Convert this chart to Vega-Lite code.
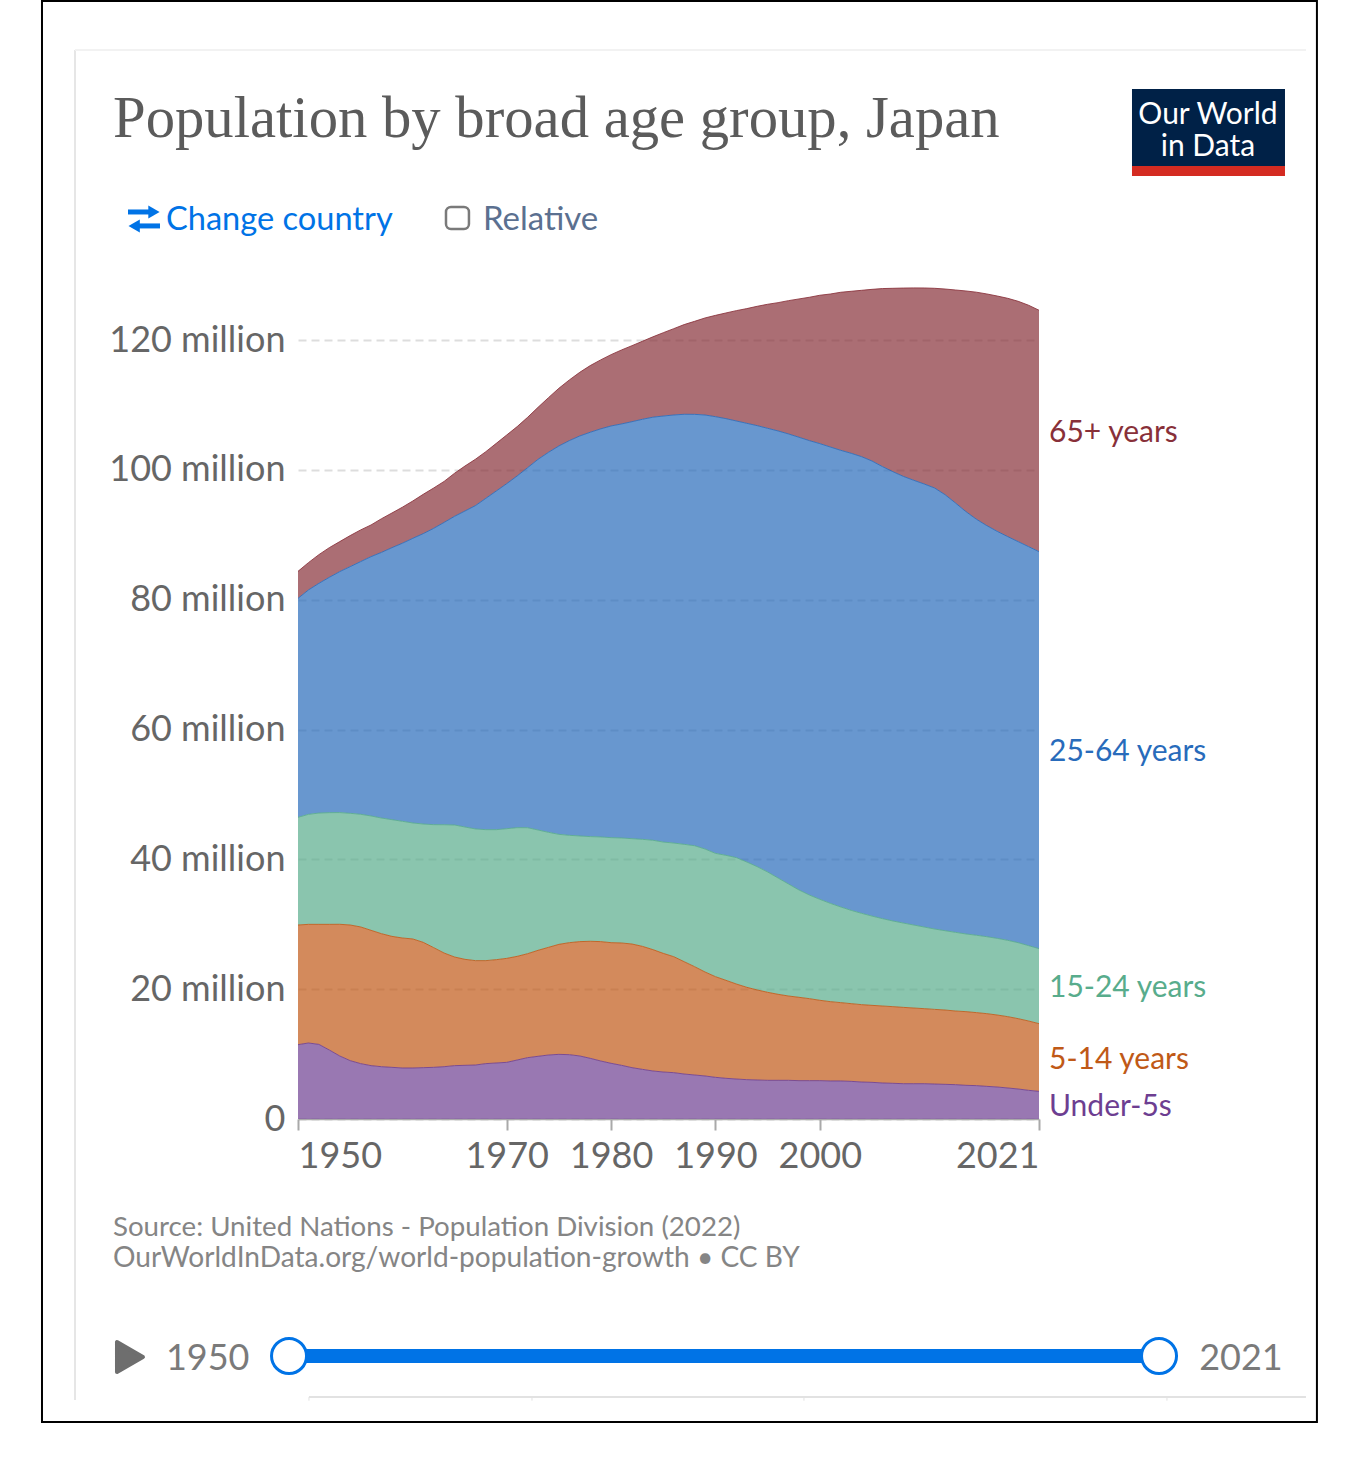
{"$schema":"https://vega.github.io/schema/vega-lite/v6.json","autosize":"none","background":"white","padding":{"left":298,"top":280,"right":321,"bottom":347},"width":741,"height":839,"title":{"text":"Population by broad age group, Japan","anchor":"start","frame":"group","dx":-185,"offset":-208,"baseline":"bottom","font":"Liberation Serif","fontSize":58.7,"fontWeight":"normal","color":"#5b5b5b"},"config":{"view":{"stroke":null},"text":{"font":"Lato"}},"datasets":{"pop":[
{"year":1950,"age":"Under-5s","pop":11.45},{"year":1950,"age":"5-14 years","pop":18.44},{"year":1950,"age":"15-24 years","pop":16.59},{"year":1950,"age":"25-64 years","pop":33.74},{"year":1950,"age":"65+ years","pop":4.16},
{"year":1951,"age":"Under-5s","pop":11.71},{"year":1951,"age":"5-14 years","pop":18.28},{"year":1951,"age":"15-24 years","pop":16.95},{"year":1951,"age":"25-64 years","pop":34.57},{"year":1951,"age":"65+ years","pop":4.21},
{"year":1952,"age":"Under-5s","pop":11.5},{"year":1952,"age":"5-14 years","pop":18.49},{"year":1952,"age":"15-24 years","pop":17.15},{"year":1952,"age":"25-64 years","pop":35.39},{"year":1952,"age":"65+ years","pop":4.42},
{"year":1953,"age":"Under-5s","pop":10.63},{"year":1953,"age":"5-14 years","pop":19.36},{"year":1953,"age":"15-24 years","pop":17.21},{"year":1953,"age":"25-64 years","pop":36.26},{"year":1953,"age":"65+ years","pop":4.57},
{"year":1954,"age":"Under-5s","pop":9.71},{"year":1954,"age":"5-14 years","pop":20.29},{"year":1954,"age":"15-24 years","pop":17.21},{"year":1954,"age":"25-64 years","pop":37.13},{"year":1954,"age":"65+ years","pop":4.62},
{"year":1955,"age":"Under-5s","pop":8.99},{"year":1955,"age":"5-14 years","pop":20.9},{"year":1955,"age":"15-24 years","pop":17.21},{"year":1955,"age":"25-64 years","pop":38.01},{"year":1955,"age":"65+ years","pop":4.78},
{"year":1956,"age":"Under-5s","pop":8.53},{"year":1956,"age":"5-14 years","pop":21.06},{"year":1956,"age":"15-24 years","pop":17.36},{"year":1956,"age":"25-64 years","pop":38.93},{"year":1956,"age":"65+ years","pop":4.88},
{"year":1957,"age":"Under-5s","pop":8.22},{"year":1957,"age":"5-14 years","pop":20.85},{"year":1957,"age":"15-24 years","pop":17.62},{"year":1957,"age":"25-64 years","pop":39.96},{"year":1957,"age":"65+ years","pop":4.88},
{"year":1958,"age":"Under-5s","pop":8.06},{"year":1958,"age":"5-14 years","pop":20.49},{"year":1958,"age":"15-24 years","pop":17.82},{"year":1958,"age":"25-64 years","pop":40.93},{"year":1958,"age":"65+ years","pop":5.19},
{"year":1959,"age":"Under-5s","pop":7.96},{"year":1959,"age":"5-14 years","pop":20.18},{"year":1959,"age":"15-24 years","pop":17.98},{"year":1959,"age":"25-64 years","pop":41.91},{"year":1959,"age":"65+ years","pop":5.34},
{"year":1960,"age":"Under-5s","pop":7.86},{"year":1960,"age":"5-14 years","pop":20.03},{"year":1960,"age":"15-24 years","pop":17.98},{"year":1960,"age":"25-64 years","pop":42.84},{"year":1960,"age":"65+ years","pop":5.55},
{"year":1961,"age":"Under-5s","pop":7.86},{"year":1961,"age":"5-14 years","pop":19.88},{"year":1961,"age":"15-24 years","pop":17.87},{"year":1961,"age":"25-64 years","pop":43.86},{"year":1961,"age":"65+ years","pop":5.75},
{"year":1962,"age":"Under-5s","pop":7.91},{"year":1962,"age":"5-14 years","pop":19.31},{"year":1962,"age":"15-24 years","pop":18.23},{"year":1962,"age":"25-64 years","pop":44.74},{"year":1962,"age":"65+ years","pop":6.06},
{"year":1963,"age":"Under-5s","pop":7.96},{"year":1963,"age":"5-14 years","pop":18.44},{"year":1963,"age":"15-24 years","pop":18.95},{"year":1963,"age":"25-64 years","pop":45.66},{"year":1963,"age":"65+ years","pop":6.21},
{"year":1964,"age":"Under-5s","pop":8.06},{"year":1964,"age":"5-14 years","pop":17.51},{"year":1964,"age":"15-24 years","pop":19.77},{"year":1964,"age":"25-64 years","pop":46.58},{"year":1964,"age":"65+ years","pop":6.32},
{"year":1965,"age":"Under-5s","pop":8.22},{"year":1965,"age":"5-14 years","pop":16.74},{"year":1965,"age":"15-24 years","pop":20.34},{"year":1965,"age":"25-64 years","pop":47.56},{"year":1965,"age":"65+ years","pop":6.63},
{"year":1966,"age":"Under-5s","pop":8.27},{"year":1966,"age":"5-14 years","pop":16.33},{"year":1966,"age":"15-24 years","pop":20.39},{"year":1966,"age":"25-64 years","pop":48.69},{"year":1966,"age":"65+ years","pop":6.93},
{"year":1967,"age":"Under-5s","pop":8.32},{"year":1967,"age":"5-14 years","pop":16.08},{"year":1967,"age":"15-24 years","pop":20.29},{"year":1967,"age":"25-64 years","pop":49.82},{"year":1967,"age":"65+ years","pop":7.14},
{"year":1968,"age":"Under-5s","pop":8.53},{"year":1968,"age":"5-14 years","pop":15.87},{"year":1968,"age":"15-24 years","pop":20.18},{"year":1968,"age":"25-64 years","pop":51.05},{"year":1968,"age":"65+ years","pop":7.19},
{"year":1969,"age":"Under-5s","pop":8.63},{"year":1969,"age":"5-14 years","pop":15.92},{"year":1969,"age":"15-24 years","pop":20.03},{"year":1969,"age":"25-64 years","pop":52.18},{"year":1969,"age":"65+ years","pop":7.34},
{"year":1970,"age":"Under-5s","pop":8.73},{"year":1970,"age":"5-14 years","pop":16.02},{"year":1970,"age":"15-24 years","pop":19.98},{"year":1970,"age":"25-64 years","pop":53.16},{"year":1970,"age":"65+ years","pop":7.5},
{"year":1971,"age":"Under-5s","pop":9.09},{"year":1971,"age":"5-14 years","pop":15.97},{"year":1971,"age":"15-24 years","pop":19.83},{"year":1971,"age":"25-64 years","pop":54.19},{"year":1971,"age":"65+ years","pop":7.6},
{"year":1972,"age":"Under-5s","pop":9.45},{"year":1972,"age":"5-14 years","pop":16.02},{"year":1972,"age":"15-24 years","pop":19.41},{"year":1972,"age":"25-64 years","pop":55.47},{"year":1972,"age":"65+ years","pop":7.76},
{"year":1973,"age":"Under-5s","pop":9.66},{"year":1973,"age":"5-14 years","pop":16.33},{"year":1973,"age":"15-24 years","pop":18.54},{"year":1973,"age":"25-64 years","pop":57.11},{"year":1973,"age":"65+ years","pop":8.01},
{"year":1974,"age":"Under-5s","pop":9.86},{"year":1974,"age":"5-14 years","pop":16.59},{"year":1974,"age":"15-24 years","pop":17.72},{"year":1974,"age":"25-64 years","pop":58.55},{"year":1974,"age":"65+ years","pop":8.42},
{"year":1975,"age":"Under-5s","pop":9.96},{"year":1975,"age":"5-14 years","pop":16.95},{"year":1975,"age":"15-24 years","pop":16.95},{"year":1975,"age":"25-64 years","pop":59.84},{"year":1975,"age":"65+ years","pop":8.89},
{"year":1976,"age":"Under-5s","pop":9.91},{"year":1976,"age":"5-14 years","pop":17.26},{"year":1976,"age":"15-24 years","pop":16.54},{"year":1976,"age":"25-64 years","pop":60.81},{"year":1976,"age":"65+ years","pop":9.35},
{"year":1977,"age":"Under-5s","pop":9.71},{"year":1977,"age":"5-14 years","pop":17.62},{"year":1977,"age":"15-24 years","pop":16.28},{"year":1977,"age":"25-64 years","pop":61.63},{"year":1977,"age":"65+ years","pop":9.81},
{"year":1978,"age":"Under-5s","pop":9.35},{"year":1978,"age":"5-14 years","pop":18.03},{"year":1978,"age":"15-24 years","pop":16.13},{"year":1978,"age":"25-64 years","pop":62.3},{"year":1978,"age":"65+ years","pop":10.27},
{"year":1979,"age":"Under-5s","pop":8.94},{"year":1979,"age":"5-14 years","pop":18.39},{"year":1979,"age":"15-24 years","pop":16.13},{"year":1979,"age":"25-64 years","pop":62.87},{"year":1979,"age":"65+ years","pop":10.63},
{"year":1980,"age":"Under-5s","pop":8.58},{"year":1980,"age":"5-14 years","pop":18.59},{"year":1980,"age":"15-24 years","pop":16.18},{"year":1980,"age":"25-64 years","pop":63.43},{"year":1980,"age":"65+ years","pop":10.99},
{"year":1981,"age":"Under-5s","pop":8.27},{"year":1981,"age":"5-14 years","pop":18.85},{"year":1981,"age":"15-24 years","pop":16.18},{"year":1981,"age":"25-64 years","pop":63.79},{"year":1981,"age":"65+ years","pop":11.4},
{"year":1982,"age":"Under-5s","pop":7.91},{"year":1982,"age":"5-14 years","pop":19.05},{"year":1982,"age":"15-24 years","pop":16.23},{"year":1982,"age":"25-64 years","pop":64.25},{"year":1982,"age":"65+ years","pop":11.71},
{"year":1983,"age":"Under-5s","pop":7.65},{"year":1983,"age":"5-14 years","pop":18.95},{"year":1983,"age":"15-24 years","pop":16.49},{"year":1983,"age":"25-64 years","pop":64.72},{"year":1983,"age":"65+ years","pop":12.02},
{"year":1984,"age":"Under-5s","pop":7.4},{"year":1984,"age":"5-14 years","pop":18.7},{"year":1984,"age":"15-24 years","pop":16.85},{"year":1984,"age":"25-64 years","pop":65.18},{"year":1984,"age":"65+ years","pop":12.38},
{"year":1985,"age":"Under-5s","pop":7.24},{"year":1985,"age":"5-14 years","pop":18.28},{"year":1985,"age":"15-24 years","pop":17.15},{"year":1985,"age":"25-64 years","pop":65.64},{"year":1985,"age":"65+ years","pop":12.84},
{"year":1986,"age":"Under-5s","pop":7.14},{"year":1986,"age":"5-14 years","pop":17.87},{"year":1986,"age":"15-24 years","pop":17.51},{"year":1986,"age":"25-64 years","pop":65.95},{"year":1986,"age":"65+ years","pop":13.3},
{"year":1987,"age":"Under-5s","pop":6.93},{"year":1987,"age":"5-14 years","pop":17.31},{"year":1987,"age":"15-24 years","pop":18.08},{"year":1987,"age":"25-64 years","pop":66.26},{"year":1987,"age":"65+ years","pop":13.82},
{"year":1988,"age":"Under-5s","pop":6.78},{"year":1988,"age":"5-14 years","pop":16.69},{"year":1988,"age":"15-24 years","pop":18.64},{"year":1988,"age":"25-64 years","pop":66.46},{"year":1988,"age":"65+ years","pop":14.33},
{"year":1989,"age":"Under-5s","pop":6.63},{"year":1989,"age":"5-14 years","pop":16.02},{"year":1989,"age":"15-24 years","pop":18.95},{"year":1989,"age":"25-64 years","pop":66.87},{"year":1989,"age":"65+ years","pop":14.95},
{"year":1990,"age":"Under-5s","pop":6.42},{"year":1990,"age":"5-14 years","pop":15.51},{"year":1990,"age":"15-24 years","pop":19.0},{"year":1990,"age":"25-64 years","pop":67.28},{"year":1990,"age":"65+ years","pop":15.61},
{"year":1991,"age":"Under-5s","pop":6.27},{"year":1991,"age":"5-14 years","pop":15.1},{"year":1991,"age":"15-24 years","pop":19.26},{"year":1991,"age":"25-64 years","pop":67.28},{"year":1991,"age":"65+ years","pop":16.28},
{"year":1992,"age":"Under-5s","pop":6.16},{"year":1992,"age":"5-14 years","pop":14.64},{"year":1992,"age":"15-24 years","pop":19.47},{"year":1992,"age":"25-64 years","pop":67.28},{"year":1992,"age":"65+ years","pop":17.0},
{"year":1993,"age":"Under-5s","pop":6.06},{"year":1993,"age":"5-14 years","pop":14.23},{"year":1993,"age":"15-24 years","pop":19.31},{"year":1993,"age":"25-64 years","pop":67.59},{"year":1993,"age":"65+ years","pop":17.67},
{"year":1994,"age":"Under-5s","pop":6.01},{"year":1994,"age":"5-14 years","pop":13.87},{"year":1994,"age":"15-24 years","pop":19.0},{"year":1994,"age":"25-64 years","pop":67.95},{"year":1994,"age":"65+ years","pop":18.39},
{"year":1995,"age":"Under-5s","pop":5.96},{"year":1995,"age":"5-14 years","pop":13.56},{"year":1995,"age":"15-24 years","pop":18.54},{"year":1995,"age":"25-64 years","pop":68.36},{"year":1995,"age":"65+ years","pop":19.11},
{"year":1996,"age":"Under-5s","pop":5.96},{"year":1996,"age":"5-14 years","pop":13.25},{"year":1996,"age":"15-24 years","pop":17.92},{"year":1996,"age":"25-64 years","pop":68.88},{"year":1996,"age":"65+ years","pop":19.77},
{"year":1997,"age":"Under-5s","pop":5.96},{"year":1997,"age":"5-14 years","pop":12.99},{"year":1997,"age":"15-24 years","pop":17.26},{"year":1997,"age":"25-64 years","pop":69.34},{"year":1997,"age":"65+ years","pop":20.54},
{"year":1998,"age":"Under-5s","pop":5.91},{"year":1998,"age":"5-14 years","pop":12.84},{"year":1998,"age":"15-24 years","pop":16.54},{"year":1998,"age":"25-64 years","pop":69.75},{"year":1998,"age":"65+ years","pop":21.31},
{"year":1999,"age":"Under-5s","pop":5.91},{"year":1999,"age":"5-14 years","pop":12.63},{"year":1999,"age":"15-24 years","pop":15.97},{"year":1999,"age":"25-64 years","pop":70.01},{"year":1999,"age":"65+ years","pop":22.09},
{"year":2000,"age":"Under-5s","pop":5.91},{"year":2000,"age":"5-14 years","pop":12.38},{"year":2000,"age":"15-24 years","pop":15.56},{"year":2000,"age":"25-64 years","pop":70.21},{"year":2000,"age":"65+ years","pop":22.86},
{"year":2001,"age":"Under-5s","pop":5.86},{"year":2001,"age":"5-14 years","pop":12.22},{"year":2001,"age":"15-24 years","pop":15.15},{"year":2001,"age":"25-64 years","pop":70.31},{"year":2001,"age":"65+ years","pop":23.57},
{"year":2002,"age":"Under-5s","pop":5.86},{"year":2002,"age":"5-14 years","pop":12.07},{"year":2002,"age":"15-24 years","pop":14.74},{"year":2002,"age":"25-64 years","pop":70.36},{"year":2002,"age":"65+ years","pop":24.35},
{"year":2003,"age":"Under-5s","pop":5.8},{"year":2003,"age":"5-14 years","pop":11.97},{"year":2003,"age":"15-24 years","pop":14.38},{"year":2003,"age":"25-64 years","pop":70.42},{"year":2003,"age":"65+ years","pop":24.96},
{"year":2004,"age":"Under-5s","pop":5.7},{"year":2004,"age":"5-14 years","pop":11.92},{"year":2004,"age":"15-24 years","pop":14.07},{"year":2004,"age":"25-64 years","pop":70.36},{"year":2004,"age":"65+ years","pop":25.63},
{"year":2005,"age":"Under-5s","pop":5.65},{"year":2005,"age":"5-14 years","pop":11.86},{"year":2005,"age":"15-24 years","pop":13.76},{"year":2005,"age":"25-64 years","pop":70.11},{"year":2005,"age":"65+ years","pop":26.45},
{"year":2006,"age":"Under-5s","pop":5.55},{"year":2006,"age":"5-14 years","pop":11.86},{"year":2006,"age":"15-24 years","pop":13.46},{"year":2006,"age":"25-64 years","pop":69.65},{"year":2006,"age":"65+ years","pop":27.43},
{"year":2007,"age":"Under-5s","pop":5.5},{"year":2007,"age":"5-14 years","pop":11.81},{"year":2007,"age":"15-24 years","pop":13.2},{"year":2007,"age":"25-64 years","pop":69.23},{"year":2007,"age":"65+ years","pop":28.25},
{"year":2008,"age":"Under-5s","pop":5.44},{"year":2008,"age":"5-14 years","pop":11.76},{"year":2008,"age":"15-24 years","pop":12.99},{"year":2008,"age":"25-64 years","pop":68.82},{"year":2008,"age":"65+ years","pop":29.02},
{"year":2009,"age":"Under-5s","pop":5.44},{"year":2009,"age":"5-14 years","pop":11.66},{"year":2009,"age":"15-24 years","pop":12.79},{"year":2009,"age":"25-64 years","pop":68.52},{"year":2009,"age":"65+ years","pop":29.64},
{"year":2010,"age":"Under-5s","pop":5.44},{"year":2010,"age":"5-14 years","pop":11.56},{"year":2010,"age":"15-24 years","pop":12.58},{"year":2010,"age":"25-64 years","pop":68.26},{"year":2010,"age":"65+ years","pop":30.2},
{"year":2011,"age":"Under-5s","pop":5.39},{"year":2011,"age":"5-14 years","pop":11.5},{"year":2011,"age":"15-24 years","pop":12.38},{"year":2011,"age":"25-64 years","pop":67.95},{"year":2011,"age":"65+ years","pop":30.77},
{"year":2012,"age":"Under-5s","pop":5.34},{"year":2012,"age":"5-14 years","pop":11.45},{"year":2012,"age":"15-24 years","pop":12.22},{"year":2012,"age":"25-64 years","pop":67.18},{"year":2012,"age":"65+ years","pop":31.69},
{"year":2013,"age":"Under-5s","pop":5.29},{"year":2013,"age":"5-14 years","pop":11.35},{"year":2013,"age":"15-24 years","pop":12.12},{"year":2013,"age":"25-64 years","pop":66.15},{"year":2013,"age":"65+ years","pop":32.82},
{"year":2014,"age":"Under-5s","pop":5.19},{"year":2014,"age":"5-14 years","pop":11.35},{"year":2014,"age":"15-24 years","pop":11.97},{"year":2014,"age":"25-64 years","pop":65.07},{"year":2014,"age":"65+ years","pop":34.0},
{"year":2015,"age":"Under-5s","pop":5.14},{"year":2015,"age":"5-14 years","pop":11.25},{"year":2015,"age":"15-24 years","pop":11.92},{"year":2015,"age":"25-64 years","pop":64.1},{"year":2015,"age":"65+ years","pop":34.98},
{"year":2016,"age":"Under-5s","pop":5.03},{"year":2016,"age":"5-14 years","pop":11.2},{"year":2016,"age":"15-24 years","pop":11.86},{"year":2016,"age":"25-64 years","pop":63.33},{"year":2016,"age":"65+ years","pop":35.7},
{"year":2017,"age":"Under-5s","pop":4.93},{"year":2017,"age":"5-14 years","pop":11.09},{"year":2017,"age":"15-24 years","pop":11.81},{"year":2017,"age":"25-64 years","pop":62.71},{"year":2017,"age":"65+ years","pop":36.26},
{"year":2018,"age":"Under-5s","pop":4.78},{"year":2018,"age":"5-14 years","pop":10.99},{"year":2018,"age":"15-24 years","pop":11.76},{"year":2018,"age":"25-64 years","pop":62.2},{"year":2018,"age":"65+ years","pop":36.72},
{"year":2019,"age":"Under-5s","pop":4.62},{"year":2019,"age":"5-14 years","pop":10.84},{"year":2019,"age":"15-24 years","pop":11.71},{"year":2019,"age":"25-64 years","pop":61.79},{"year":2019,"age":"65+ years","pop":37.03},
{"year":2020,"age":"Under-5s","pop":4.42},{"year":2020,"age":"5-14 years","pop":10.68},{"year":2020,"age":"15-24 years","pop":11.61},{"year":2020,"age":"25-64 years","pop":61.48},{"year":2020,"age":"65+ years","pop":37.19},
{"year":2021,"age":"Under-5s","pop":4.26},{"year":2021,"age":"5-14 years","pop":10.43},{"year":2021,"age":"15-24 years","pop":11.56},{"year":2021,"age":"25-64 years","pop":61.17},{"year":2021,"age":"65+ years","pop":37.19}
]},"layer":[
{"data":{"name":"pop"},"transform":[{"calculate":"indexof(['Under-5s','5-14 years','15-24 years','25-64 years','65+ years'],datum.age)","as":"rank"}],"mark":{"type":"area","opacity":0.7,"line":{"strokeWidth":1,"opacity":0.85}},"encoding":{"x":{"field":"year","type":"quantitative","scale":{"domain":[1950,2021],"nice":false,"zero":false},"axis":{"title":null,"values":[1950,1970,1980,1990,2000,2021],"format":"d","grid":false,"domainColor":"#a9a9a9","domainWidth":1.5,"tickColor":"#a9a9a9","tickWidth":2,"tickSize":11,"labelFont":"Lato","labelFontSize":36,"labelColor":"#666666","labelPadding":9,"labelFlush":false,"labelOverlap":false,"labelBound":false,"labelAlign":{"expr":"datum.value==1950?'left':datum.value==2021?'right':'center'"}}},"y":{"field":"pop","type":"quantitative","stack":"zero","scale":{"domain":[0,129.27],"nice":false},"axis":{"title":null,"values":[0,20,40,60,80,100,120],"grid":true,"gridColor":"#dddddd","gridDash":[8,5],"gridWidth":2,"domain":false,"ticks":false,"labelFont":"Lato","labelFontSize":36,"labelColor":"#666666","labelPadding":13,"labelExpr":"datum.value==0?'0':datum.value+' million'"}},"color":{"field":"age","type":"nominal","legend":null,"scale":{"domain":["Under-5s","5-14 years","15-24 years","25-64 years","65+ years"],"range":["#6D3E91","#C05917","#58AC8C","#286BBB","#883039"]}},"order":{"field":"rank"}}},
{"data":{"name":"pop"},"transform":[{"calculate":"indexof(['Under-5s','5-14 years','15-24 years','25-64 years','65+ years'],datum.age)","as":"rank"},{"stack":"pop","groupby":["year"],"sort":[{"field":"rank","order":"ascending"}],"as":["y0","y1"]},{"filter":"datum.year==2021"},{"calculate":"(datum.y0+datum.y1)/2","as":"mid"}],"mark":{"type":"text","align":"left","baseline":"middle","dx":10,"dy":2,"fontSize":30,"font":"Lato"},"encoding":{"x":{"field":"year","type":"quantitative","axis":{"title":null}},"y":{"field":"mid","type":"quantitative","axis":{"title":null}},"text":{"field":"age"},"color":{"field":"age","type":"nominal","legend":null}}},
{"data":{"values":[{"part":"frame"}]},"mark":{"type":"rect","fill":"transparent","stroke":"#000000","strokeWidth":2},"encoding":{"x":{"datum":1925.47,"type":"quantitative","axis":{"title":null}},"x2":{"datum":2047.63},"y":{"datum":172.27,"type":"quantitative","axis":{"title":null}},"y2":{"datum":-46.69}}},
{"data":{"values":[{"part":"card left"}]},"mark":{"type":"rule","stroke":"#e6e6e6","strokeWidth":2},"encoding":{"x":{"datum":1928.63,"type":"quantitative","axis":{"title":null}},"y":{"datum":164.71,"type":"quantitative","axis":{"title":null}},"y2":{"datum":-43.3}}},
{"data":{"values":[{"part":"card top"}]},"mark":{"type":"rule","stroke":"#f2f2f2","strokeWidth":2},"encoding":{"x":{"datum":1928.63,"type":"quantitative","axis":{"title":null}},"x2":{"datum":2046.58},"y":{"datum":164.71,"type":"quantitative","axis":{"title":null}}}},
{"data":{"values":[{"part":"timeline"}]},"mark":{"type":"rule","stroke":"#e2e2e2","strokeWidth":2},"encoding":{"x":{"datum":1951.05,"type":"quantitative","axis":{"title":null}},"x2":{"datum":2046.58},"y":{"datum":-42.84,"type":"quantitative","axis":{"title":null}}}},
{"data":{"values":[{"tick":1951.05},{"tick":1972.42},{"tick":1998.48},{"tick":2033.26}]},"mark":{"type":"rule","stroke":"#e2e2e2","strokeWidth":1},"encoding":{"x":{"field":"tick","type":"quantitative","axis":{"title":null}},"y":{"datum":-42.84,"type":"quantitative","axis":{"title":null}},"y2":{"datum":-43.4}}},
{"data":{"values":[{"part":"logo"}]},"mark":{"type":"rect","fill":"#002147"},"encoding":{"x":{"datum":2029.91,"type":"quantitative","axis":{"title":null}},"x2":{"datum":2044.57},"y":{"datum":158.71,"type":"quantitative","axis":{"title":null}},"y2":{"datum":146.84}}},
{"data":{"values":[{"part":"logo bar"}]},"mark":{"type":"rect","fill":"#D42B21"},"encoding":{"x":{"datum":2029.91,"type":"quantitative","axis":{"title":null}},"x2":{"datum":2044.57},"y":{"datum":146.84,"type":"quantitative","axis":{"title":null}},"y2":{"datum":145.3}}},
{"data":{"values":[{"t":"Our World"}]},"mark":{"type":"text","align":"center","baseline":"middle","font":"Lato","fontSize":30,"fill":"#ffffff","dy":2},"encoding":{"text":{"field":"t"},"x":{"datum":2037.19,"type":"quantitative","axis":{"title":null}},"y":{"datum":155,"type":"quantitative","axis":{"title":null}}}},
{"data":{"values":[{"t":"in Data"}]},"mark":{"type":"text","align":"center","baseline":"middle","font":"Lato","fontSize":30,"fill":"#ffffff","dy":1},"encoding":{"text":{"field":"t"},"x":{"datum":2037.19,"type":"quantitative","axis":{"title":null}},"y":{"datum":149.92,"type":"quantitative","axis":{"title":null}}}},
{"data":{"values":[{"t":"Change country"}]},"mark":{"type":"text","align":"left","baseline":"middle","font":"Lato","fontSize":32.6,"fill":"#0073E6","dy":1},"encoding":{"text":{"field":"t"},"x":{"datum":1937.35,"type":"quantitative","axis":{"title":null}},"y":{"datum":138.67,"type":"quantitative","axis":{"title":null}}}},
{"data":{"values":[{"t":"Relative"}]},"mark":{"type":"text","align":"left","baseline":"middle","font":"Lato","fontSize":33,"fill":"#5b7090","dy":1},"encoding":{"text":{"field":"t"},"x":{"datum":1967.72,"type":"quantitative","axis":{"title":null}},"y":{"datum":138.67,"type":"quantitative","axis":{"title":null}}}},
{"data":{"values":[{"part":"checkbox"}]},"mark":{"type":"rect","fill":"transparent","stroke":"#7a7a7a","strokeWidth":2.5,"cornerRadius":5},"encoding":{"x":{"datum":1964.18,"type":"quantitative","axis":{"title":null}},"x2":{"datum":1966.38},"y":{"datum":140.52,"type":"quantitative","axis":{"title":null}},"y2":{"datum":137.13}}},
{"data":{"values":[{"part":"icon top"}]},"mark":{"type":"rule","stroke":"#0073E6","strokeWidth":5},"encoding":{"x":{"datum":1933.71,"type":"quantitative","axis":{"title":null}},"x2":{"datum":1936.01},"y":{"datum":139.75,"type":"quantitative","axis":{"title":null}}}},
{"data":{"values":[{"part":"icon bottom"}]},"mark":{"type":"rule","stroke":"#0073E6","strokeWidth":5},"encoding":{"x":{"datum":1934.48,"type":"quantitative","axis":{"title":null}},"x2":{"datum":1936.78},"y":{"datum":137.6,"type":"quantitative","axis":{"title":null}}}},
{"data":{"values":[{"part":"icon head top"}]},"mark":{"type":"point","shape":"triangle-right","filled":true,"fill":"#0073E6","opacity":1,"size":170},"encoding":{"x":{"datum":1936.2,"type":"quantitative","axis":{"title":null}},"y":{"datum":139.75,"type":"quantitative","axis":{"title":null}}}},
{"data":{"values":[{"part":"icon head bottom"}]},"mark":{"type":"point","shape":"triangle-left","filled":true,"fill":"#0073E6","opacity":1,"size":170},"encoding":{"x":{"datum":1934.3,"type":"quantitative","axis":{"title":null}},"y":{"datum":137.6,"type":"quantitative","axis":{"title":null}}}},
{"data":{"values":[{"t":"Source: United Nations - Population Division (2022)"}]},"mark":{"type":"text","align":"left","baseline":"middle","font":"Lato","fontSize":27.7,"fill":"#858585","dy":2},"encoding":{"text":{"field":"t"},"x":{"datum":1932.27,"type":"quantitative","axis":{"title":null}},"y":{"datum":-16.49,"type":"quantitative","axis":{"title":null}}}},
{"data":{"values":[{"t":"OurWorldInData.org/world-population-growth • CC BY"}]},"mark":{"type":"text","align":"left","baseline":"middle","font":"Lato","fontSize":28.1,"fill":"#858585","dy":2},"encoding":{"text":{"field":"t"},"x":{"datum":1932.27,"type":"quantitative","axis":{"title":null}},"y":{"datum":-21.26,"type":"quantitative","axis":{"title":null}}}},
{"data":{"values":[{"part":"play"}]},"mark":{"type":"point","shape":"triangle-right","filled":true,"fill":"#6e6e6e","stroke":"#6e6e6e","strokeWidth":4,"strokeJoin":"round","opacity":1,"size":900},"encoding":{"x":{"datum":1933.9,"type":"quantitative","axis":{"title":null}},"y":{"datum":-36.67,"type":"quantitative","axis":{"title":null}}}},
{"data":{"values":[{"t":"1950"}]},"mark":{"type":"text","align":"left","baseline":"middle","font":"Lato","fontSize":36,"fill":"#7a7a7a","dy":2},"encoding":{"text":{"field":"t"},"x":{"datum":1937.35,"type":"quantitative","axis":{"title":null}},"y":{"datum":-36.67,"type":"quantitative","axis":{"title":null}}}},
{"data":{"values":[{"t":"2021"}]},"mark":{"type":"text","align":"left","baseline":"middle","font":"Lato","fontSize":36,"fill":"#7a7a7a","dy":2},"encoding":{"text":{"field":"t"},"x":{"datum":2036.35,"type":"quantitative","axis":{"title":null}},"y":{"datum":-36.67,"type":"quantitative","axis":{"title":null}}}},
{"data":{"values":[{"part":"slider"}]},"mark":{"type":"rect","fill":"#0073E6"},"encoding":{"x":{"datum":1949.14,"type":"quantitative","axis":{"title":null}},"x2":{"datum":2032.5},"y":{"datum":-35.44,"type":"quantitative","axis":{"title":null}},"y2":{"datum":-37.6}}},
{"data":{"values":[{"year":1949.14},{"year":2032.5}]},"mark":{"type":"point","shape":"circle","filled":true,"fill":"#ffffff","stroke":"#0073E6","strokeWidth":3,"opacity":1,"size":1225},"encoding":{"x":{"field":"year","type":"quantitative","axis":{"title":null}},"y":{"datum":-36.52,"type":"quantitative","axis":{"title":null}}}}
]}
